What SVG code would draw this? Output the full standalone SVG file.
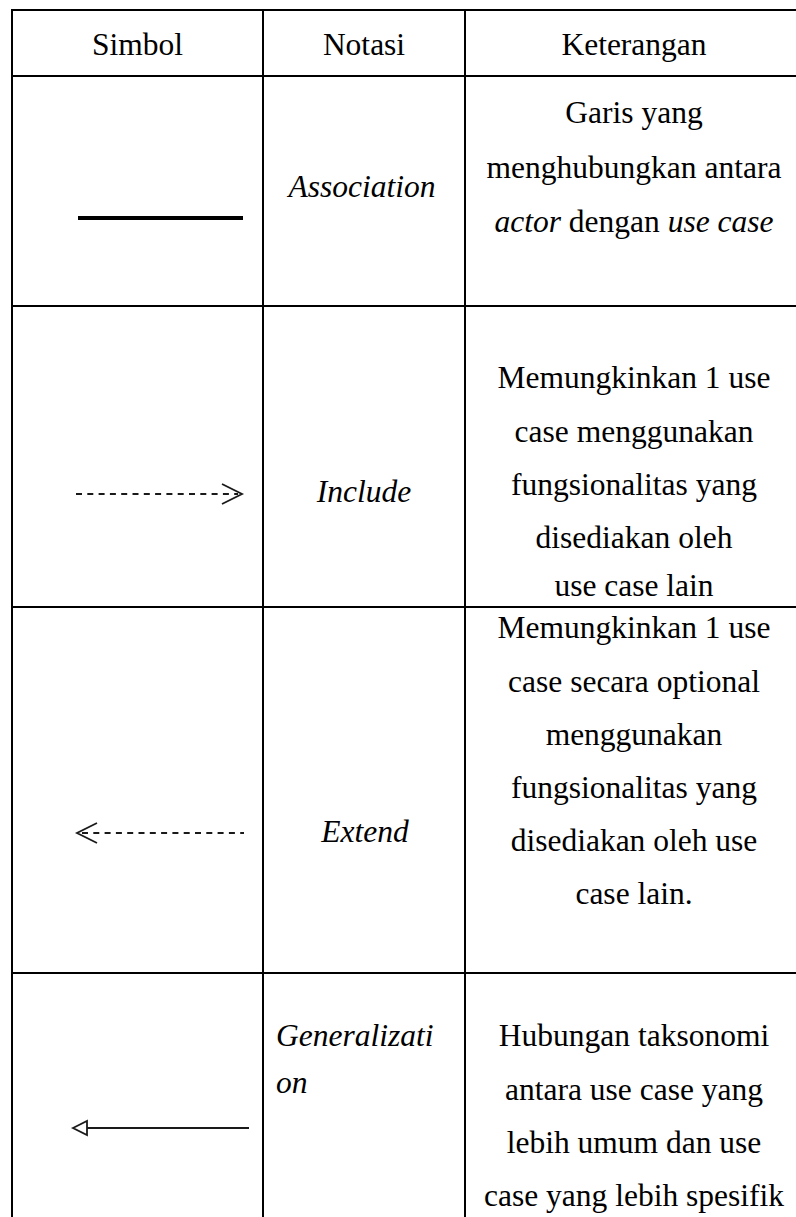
<svg xmlns="http://www.w3.org/2000/svg" width="796" height="1217" viewBox="0 0 796 1217">
<style>
.t{font-family:"Liberation Serif","Times New Roman",serif;font-size:31.5px;fill:#000}
.c{text-anchor:middle}
.i{font-style:italic}
.grid{stroke:#000;stroke-width:2;fill:none}
.sym{stroke:#1a1a1a;stroke-width:1.8;fill:none}
.dash{stroke-dasharray:6 5.3}
</style>
<rect width="796" height="1217" fill="#fff"/>
<g id="table-grid" class="grid">
<line x1="11" y1="10" x2="796" y2="10"/>
<line x1="11" y1="76" x2="796" y2="76"/>
<line x1="11" y1="306" x2="796" y2="306"/>
<line x1="11" y1="607" x2="796" y2="607"/>
<line x1="11" y1="973" x2="796" y2="973"/>
<line x1="12" y1="9" x2="12" y2="1217"/>
<line x1="263" y1="9" x2="263" y2="1217"/>
<line x1="465" y1="9" x2="465" y2="1217"/>
</g>
<g id="header">
<text class="t c" x="137.5" y="55">Simbol</text>
<text class="t c" x="364" y="55">Notasi</text>
<text class="t c" x="634" y="55">Keterangan</text>
</g>
<g id="row-association">
<text class="t c i" x="362" y="197">Association</text>
<text class="t c" x="634" y="123">Garis yang</text>
<text class="t c" x="634" y="178">menghubungkan antara</text>
<text class="t c" x="634" y="232"><tspan class="i">actor</tspan> dengan <tspan class="i">use case</tspan></text>
</g>
<g id="row-include">
<text class="t c i" x="364" y="502">Include</text>
<text class="t c" x="634" y="388">Memungkinkan 1 use</text>
<text class="t c" x="634" y="442">case menggunakan</text>
<text class="t c" x="634" y="495">fungsionalitas yang</text>
<text class="t c" x="634" y="548">disediakan oleh</text>
<text class="t c" x="634" y="596">use case lain</text>
</g>
<g id="row-extend">
<text class="t c i" x="365" y="842">Extend</text>
<text class="t c" x="634" y="638">Memungkinkan 1 use</text>
<text class="t c" x="634" y="692">case secara optional</text>
<text class="t c" x="634" y="745">menggunakan</text>
<text class="t c" x="634" y="798">fungsionalitas yang</text>
<text class="t c" x="634" y="851">disediakan oleh use</text>
<text class="t c" x="634" y="904">case lain.</text>
</g>
<g id="row-generalization">
<text class="t i" x="276" y="1046">Generalizati</text>
<text class="t i" x="276" y="1093">on</text>
<text class="t c" x="634" y="1046">Hubungan taksonomi</text>
<text class="t c" x="634" y="1100">antara use case yang</text>
<text class="t c" x="634" y="1153">lebih umum dan use</text>
<text class="t c" x="634" y="1206">case yang lebih spesifik</text>
</g>
<g id="connectors">
<line id="sym-association" x1="78" y1="218" x2="243" y2="218" stroke="#000" stroke-width="4"/>
<g id="sym-include">
<line class="sym dash" x1="76" y1="494" x2="238" y2="494"/>
<polyline class="sym" points="222,484 242,494 222,504"/>
</g>
<g id="sym-extend">
<line class="sym dash" x1="82" y1="833" x2="244" y2="833"/>
<polyline class="sym" points="97,823 77,833 97,843"/>
</g>
<g id="sym-generalization">
<line class="sym" x1="87" y1="1128" x2="249" y2="1128"/>
<polygon class="sym" points="73,1128 87,1121 87,1135"/>
</g>
</g>
</svg>
